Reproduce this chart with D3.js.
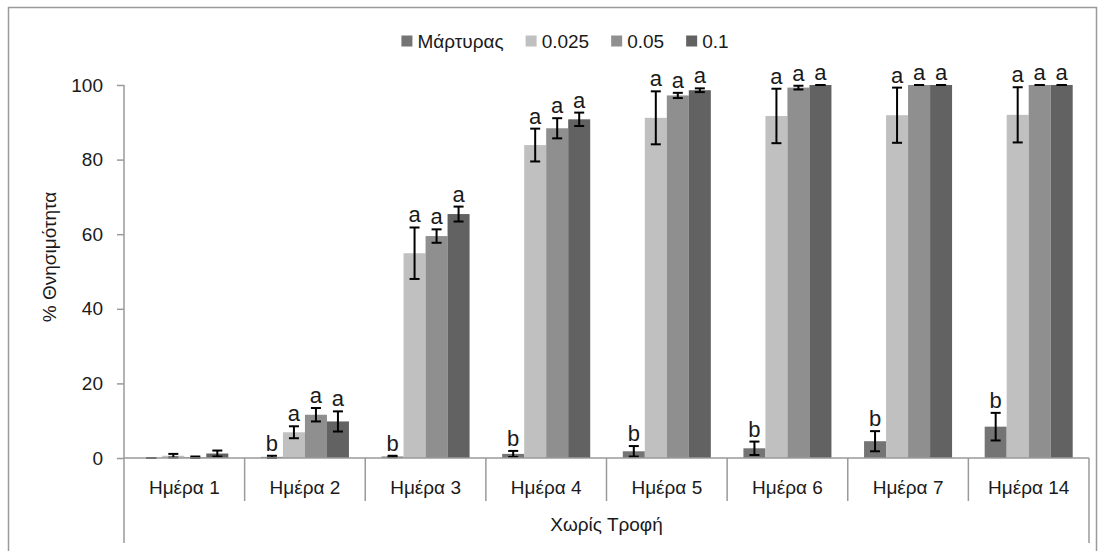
<!DOCTYPE html>
<html>
<head>
<meta charset="utf-8">
<script src="https://cdn.jsdelivr.net/npm/d3@7"></script>
<style>
  html, body { margin: 0; padding: 0; background: #fff; }
  svg { display: block; font-family: "Liberation Sans", Arial, sans-serif; }
</style>
</head>
<body>
<svg id="chart" width="1105" height="551"></svg>
<script>
const categories = ["Ημέρα 1", "Ημέρα 2", "Ημέρα 3", "Ημέρα 4", "Ημέρα 5", "Ημέρα 6", "Ημέρα 7", "Ημέρα 14"];
const groupLabel = "Χωρίς Τροφή";
const seriesNames = ["Μάρτυρας", "0.025", "0.05", "0.1"];
const seriesColors = ["#747474", "#c0c0c0", "#8f8f8f", "#626262"];

const controlValues = [0, 0.3, 0.4, 1.1, 1.8, 2.6, 4.5, 8.4];
const controlErrors = [0, 0.3, 0.2, 0.8, 1.4, 1.8, 2.7, 3.7];
const controlLetters = ["", "b", "b", "b", "b", "b", "b", "b"];

const d025Values = [0.6, 6.9, 54.9, 83.9, 91.2, 91.7, 91.9, 92.0];
const d025Errors = [0.5, 1.6, 6.9, 4.4, 7.1, 7.3, 7.4, 7.4];
const d025Letters = ["", "a", "a", "a", "a", "a", "a", "a"];

const d05Values = [0.2, 11.6, 59.5, 88.4, 97.2, 99.3, 100, 100];
const d05Errors = [0.2, 1.8, 1.8, 2.7, 0.7, 0.5, 0, 0];
const d05Letters = ["", "a", "a", "a", "a", "a", "a", "a"];

const d1Values = [1.2, 9.8, 65.4, 90.8, 98.6, 100, 100, 100];
const d1Errors = [0.8, 2.7, 2.0, 1.8, 0.5, 0, 0, 0];
const d1Letters = ["", "a", "a", "a", "a", "a", "a", "a"];

const yTicks = [0, 20, 40, 60, 80, 100];
const yTitle = "% Θνησιμότητα";

const seriesValues = [controlValues, d025Values, d05Values, d1Values];
const seriesErrors = [controlErrors, d025Errors, d05Errors, d1Errors];
const seriesLetters = [controlLetters, d025Letters, d05Letters, d1Letters];

const rows = [];
categories.forEach((c, i) => {
  seriesNames.forEach((s, j) => {
    rows.push({cat: c, series: s, si: j, value: seriesValues[j][i], err: seriesErrors[j][i], letter: seriesLetters[j][i]});
  });
});

const svg = d3.select("#chart");
const plotLeft = 124, plotRight = 1089, plotTop = 85, plotBottom = 458;
const axisColor = "#9a9a9a";
const textColor = "#1a1a1a";

// outer chart border
svg.append("rect").attr("x", 8.5).attr("y", 7.5).attr("width", 1088).attr("height", 600)
  .attr("fill", "none").attr("stroke", axisColor).attr("stroke-width", 1.5);

const x0 = d3.scaleBand().domain(categories).range([plotLeft, plotRight]).padding(0);
const bw = x0.bandwidth();
const x1 = d3.scaleBand().domain(seriesNames).range([16.3, bw - 16.3]).padding(0);
const y = d3.scaleLinear().domain([0, 100]).range([plotBottom, plotTop]);

// bars
const g = svg.append("g");
g.selectAll("rect.bar").data(rows).enter().append("rect")
  .attr("class", "bar")
  .attr("x", d => x0(d.cat) + x1(d.series))
  .attr("y", d => y(d.value))
  .attr("width", x1.bandwidth())
  .attr("height", d => y(0) - y(d.value))
  .attr("fill", d => seriesColors[d.si]);

// error bars
const capHalf = 5;
const cx = d => x0(d.cat) + x1(d.series) + x1.bandwidth() / 2;
const hi = d => y(Math.min(100, d.value + d.err));
const lo = d => y(Math.max(0, d.value - d.err));
const eb = g.selectAll("g.err").data(rows).enter().append("g").attr("class", "err")
  .attr("stroke", "#000").attr("stroke-width", 2);
eb.append("line").attr("x1", cx).attr("x2", cx).attr("y1", hi).attr("y2", lo);
eb.append("line").attr("x1", d => cx(d) - capHalf).attr("x2", d => cx(d) + capHalf).attr("y1", hi).attr("y2", hi);
eb.append("line").attr("x1", d => cx(d) - capHalf).attr("x2", d => cx(d) + capHalf).attr("y1", lo).attr("y2", lo);

// significance letters
g.selectAll("text.letter").data(rows.filter(d => d.letter)).enter().append("text")
  .attr("class", "letter")
  .attr("x", cx)
  .attr("y", d => hi(d) - 5)
  .attr("text-anchor", "middle")
  .attr("font-size", 22)
  .attr("fill", textColor)
  .text(d => d.letter);

// y axis
const yAxis = svg.append("g").attr("transform", `translate(${plotLeft},0)`)
  .call(d3.axisLeft(y).tickValues(yTicks).tickSize(7).tickPadding(14).tickFormat(d3.format("d")));
yAxis.select(".domain").remove();
yAxis.selectAll(".tick line").attr("stroke", axisColor).attr("stroke-width", 1.5);
yAxis.selectAll(".tick text").attr("font-size", 19).attr("fill", textColor)
  .attr("font-family", "'Liberation Sans', Arial, sans-serif");
svg.append("line").attr("x1", plotLeft).attr("x2", plotLeft).attr("y1", plotTop).attr("y2", 543)
  .attr("stroke", axisColor).attr("stroke-width", 1.5);

// x axis (multi-level categories)
svg.append("line").attr("x1", plotLeft).attr("x2", plotRight).attr("y1", plotBottom).attr("y2", plotBottom)
  .attr("stroke", axisColor).attr("stroke-width", 1.5);
svg.selectAll("line.sep").data(categories.slice(1)).enter().append("line")
  .attr("class", "sep")
  .attr("x1", d => x0(d)).attr("x2", d => x0(d))
  .attr("y1", plotBottom).attr("y2", 501)
  .attr("stroke", axisColor).attr("stroke-width", 1.5);
svg.append("line").attr("x1", plotRight).attr("x2", plotRight).attr("y1", plotBottom).attr("y2", 543)
  .attr("stroke", axisColor).attr("stroke-width", 1.5);
svg.selectAll("text.cat").data(categories).enter().append("text")
  .attr("class", "cat")
  .attr("x", d => x0(d) + bw / 2).attr("y", 494)
  .attr("text-anchor", "middle").attr("font-size", 19).attr("fill", textColor)
  .text(d => d);
svg.append("text").attr("x", (plotLeft + plotRight) / 2).attr("y", 531)
  .attr("text-anchor", "middle").attr("font-size", 19).attr("fill", textColor)
  .text(groupLabel);

// y title
svg.append("text").attr("transform", "translate(56,257) rotate(-90)")
  .attr("text-anchor", "middle").attr("font-size", 19).attr("fill", textColor)
  .text(yTitle);

// legend
const leg = svg.append("g");
const items = leg.selectAll("g").data(seriesNames).enter().append("g");
items.append("rect").attr("width", 11).attr("height", 11).attr("y", -5.5)
  .attr("fill", (d, i) => seriesColors[i]);
items.append("text").attr("x", 16).attr("y", 7).attr("font-size", 19).attr("fill", textColor)
  .text(d => d);
const gap = 22;
const widths = [];
items.each(function () {
  widths.push(16 + d3.select(this).select("text").node().getComputedTextLength());
});
const total = d3.sum(widths) + gap * (widths.length - 1);
let start = 565 - total / 2;
items.attr("transform", (d, i) => {
  const tx = start;
  start += widths[i] + gap;
  return `translate(${tx},41)`;
});
</script>
</body>
</html>
